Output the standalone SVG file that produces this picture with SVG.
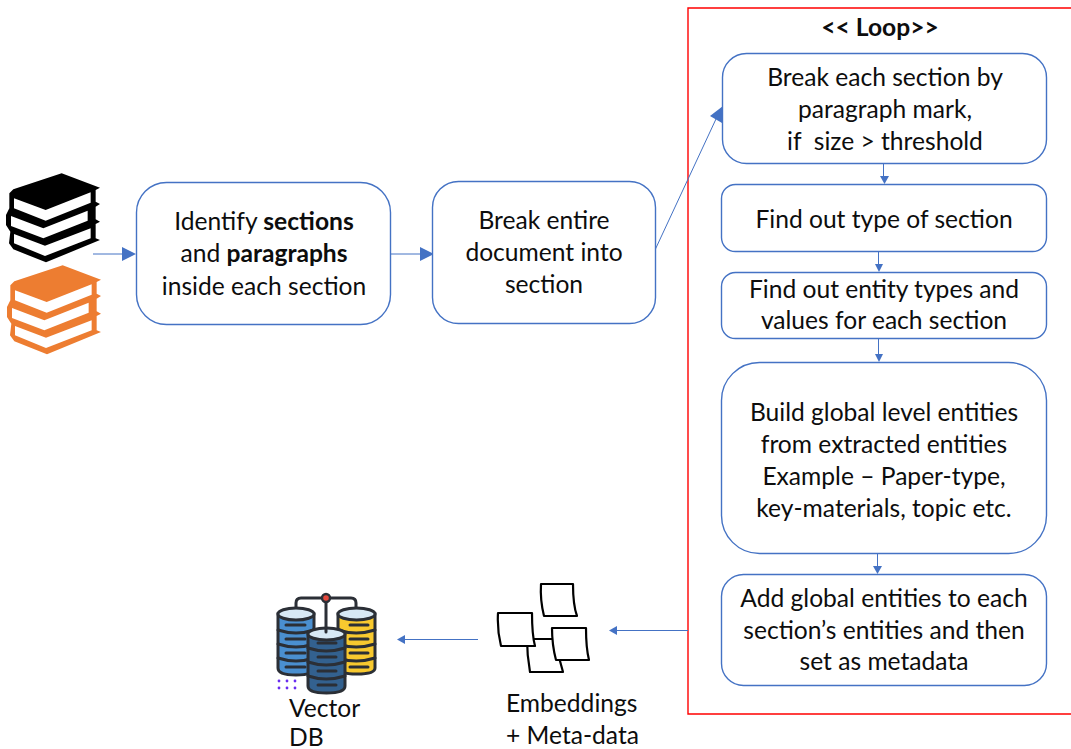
<svg xmlns="http://www.w3.org/2000/svg" width="1071" height="749" viewBox="0 0 1071 749">
<style>
text{font-family:"Lato","Carlito","Noto Sans",sans-serif;font-size:24.6px;fill:#0d0d0d;white-space:pre}
.c{text-anchor:middle}
.b{font-weight:700}
.n{fill:#fff;stroke:#4472c4;stroke-width:1.4}
.l{fill:none;stroke:#4472c4;stroke-width:1}
.a{fill:#4472c4;stroke:none}
.page{fill:#fff;stroke:#000;stroke-width:2.2;stroke-linejoin:round}
.db{stroke:#2b2f36;stroke-width:3}
.wire{fill:none;stroke:#2b2f36;stroke-width:3;stroke-linejoin:round;stroke-linecap:round}
.dot{fill:#6a2cf0}
</style>
<defs>
<g id="book">
<path fill="currentColor" d="M185 40L300 83L287 90V125L300 132L287 140V178L300 185L287 192V235L300 240L138 307L40 268L27 250L31 215L18 195V165L28 145V100L40 88Z"/>
<path fill="#fff" d="M42 115L137 150L272 97V128L137 182L42 145ZM33 168L130 205L263 152V182L130 235L33 198ZM42 222L135 257L272 205V235L135 288L42 250Z"/>
</g>
</defs>

<g id="loop-frame"><path d="M1071 8H688V714H1071" fill="none" stroke="#ff0000" stroke-width="1.4"/><text class="c b" x="880" y="36">&lt;&lt; Loop&gt;&gt;</text></g>

<g id="connectors">
<path class="l" d="M93 254H124"/><path class="a" d="M136 254L122 247V261Z"/>
<path class="l" d="M391 254H422"/><path class="a" d="M434 254L420 247V261Z"/>
<path class="l" d="M655 250L716 119"/><path class="a" d="M723 106L710 116L722 123Z"/>
<path class="l" d="M883.500 162V178"/><path class="a" d="M884.500 184L880 176H889Z"/>
<path class="l" d="M878.500 251V266"/><path class="a" d="M879 272L875 264H883Z"/>
<path class="l" d="M878.500 338V356"/><path class="a" d="M879 362L875 354H883Z"/>
<path class="l" d="M877.500 553V568"/><path class="a" d="M877.500 574L873 566H882Z"/>
<path class="l" d="M688 630.500H617"/><path class="a" d="M609 630.500L617 626V635Z"/>
<path class="l" d="M478 639.500H405"/><path class="a" d="M397 639.500L405 635V644Z"/>
</g>

<g id="books-black" color="#000"><use href="#book" transform="translate(0 160) scale(.3333)"/></g>
<g id="books-orange" color="#ed7d31"><use href="#book" transform="translate(1 252) scale(.3333)"/></g>

<g id="identify"><rect class="n" x="136.500" y="182.500" width="254" height="142" rx="30"/>
<text class="c" x="264" y="230">Identify <tspan class="b">sections</tspan></text>
<text class="c" x="264" y="262">and <tspan class="b">paragraphs</tspan></text>
<text class="c" x="264" y="295">inside each section</text></g>

<g id="break-doc"><rect class="n" x="432.500" y="181.500" width="223" height="142" rx="26"/>
<text class="c" x="544" y="229">Break entire</text>
<text class="c" x="544" y="261">document into</text>
<text class="c" x="544" y="293">section</text></g>

<g id="break-section"><rect class="n" x="722.500" y="53.500" width="324" height="110" rx="24"/>
<text class="c" x="885" y="86">Break each section by</text>
<text class="c" x="885" y="118">paragraph mark,</text>
<text class="c" x="885" y="150">if  size &gt; threshold</text></g>

<g id="section-type"><rect class="n" x="721.500" y="184.500" width="325" height="67" rx="14"/>
<text class="c" x="884" y="228">Find out type of section</text></g>

<g id="entity-types"><rect class="n" x="721.500" y="272.500" width="325" height="66" rx="14"/>
<text class="c" x="884" y="298">Find out entity types and</text>
<text class="c" x="884" y="329">values for each section</text></g>

<g id="global-entities"><rect class="n" x="721.500" y="362.500" width="325" height="191" rx="38"/>
<text class="c" x="884" y="421">Build global level entities</text>
<text class="c" x="884" y="453">from extracted entities</text>
<text class="c" x="884" y="485">Example – Paper-type,</text>
<text class="c" x="884" y="517">key-materials, topic etc.</text></g>

<g id="metadata"><rect class="n" x="721.500" y="574.500" width="325" height="111" rx="22"/>
<text class="c" x="884" y="607">Add global entities to each</text>
<text class="c" x="884" y="639">section’s entities and then</text>
<text class="c" x="884" y="670">set as metadata</text></g>

<g id="embeddings">
<path class="page" d="M527 639H554L563 672H530Q527 655 527 639Z"/>
<path class="page" d="M541 584H573Q573 605 577 616H544Q540 600 541 584Z"/>
<path class="page" d="M498 613H532Q532 635 535 646H501Q497 630 498 613Z"/>
<path class="page" d="M552 628H586Q586 648 589 660H556Q552 645 552 628Z"/>
<text x="506" y="712">Embeddings</text>
<text x="506" y="744">+ Meta-data</text>
</g>

<g id="vector-db">
<path class="wire" d="M296 612V603Q296 598 301 598H351Q356 598 356 603V612"/>
<g>
<path class="db" fill="#4a8fd0" d="M278 614V668Q278 675 296 675Q314 675 314 668V614Z"/>
<ellipse class="db" cx="296" cy="614" rx="18" ry="6" fill="#d8e9f5"/>
<path class="wire" d="M278 630Q296 636 314 630M278 644Q296 650 314 644M278 658Q296 664 314 658M286 625H305M286 639H305M286 653H305M286 667H305"/>
</g>
<g>
<path class="db" fill="#f8c92f" d="M338 614V668Q338 674 357 674Q375 674 375 668V614Z"/>
<ellipse class="db" cx="356.500" cy="614" rx="18.500" ry="6" fill="#d8e9f5"/>
<path class="wire" d="M338 630Q356 636 375 630M338 644Q356 650 375 644M338 658Q356 664 375 658M350 625H368M350 639H368M350 653H368M350 667H368"/>
</g>
<g>
<path class="db" fill="#33618f" d="M308 634V686Q308 693 326.500 693Q345 693 345 686V634Z"/>
<ellipse class="db" cx="326.500" cy="634" rx="18.500" ry="6" fill="#d8e9f5"/>
<path class="wire" d="M308 648Q326 654 345 648M308 662Q326 668 345 662M308 676Q326 682 345 676M318 643H336M318 657H336M318 671H336M318 685H336"/>
</g>
<path class="wire" d="M326 598V632"/>
<circle cx="326" cy="598" r="4" fill="#e4483c" stroke="#2b2f36" stroke-width="2.400"/>
<g class="dot"><circle cx="279" cy="681" r="1.400"/><circle cx="287" cy="681" r="1.400"/><circle cx="295" cy="681" r="1.400"/><circle cx="279" cy="688" r="1.400"/><circle cx="287" cy="688" r="1.400"/><circle cx="295" cy="688" r="1.400"/></g>
<text x="289" y="717">Vector</text>
<text x="289" y="746">DB</text>
</g>
</svg>
